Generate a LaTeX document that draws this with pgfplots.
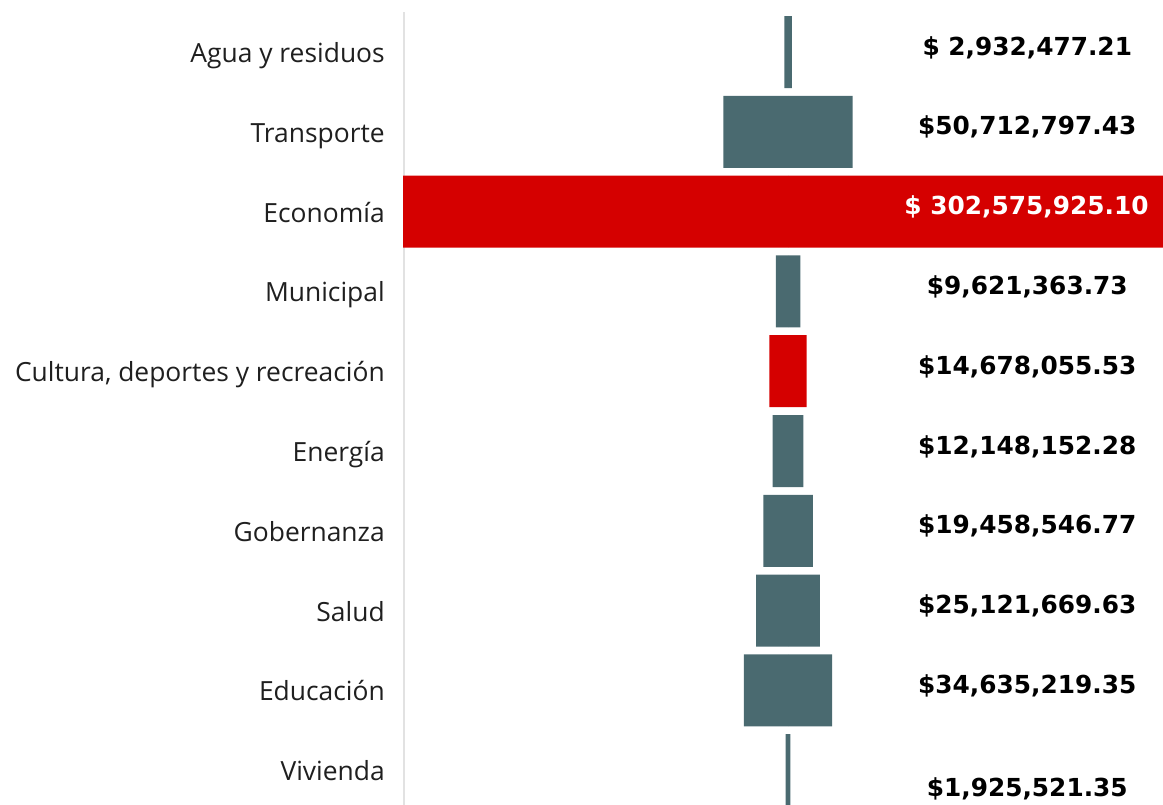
\documentclass[border=0pt]{standalone}
\usepackage{fontspec}
\setmainfont{Open Sans}
\newfontfamily\valfont{DejaVu Sans}
\usepackage{pgfplots}
\usepackage{pgfplotstable}
\pgfplotsset{compat=1.18}
\usetikzlibrary{calc}
\definecolor{slate}{HTML}{4A6A70}
\definecolor{redbar}{HTML}{D50000}
\definecolor{axgray}{HTML}{E2E2E2}

\pgfplotstableread{
row v
0 2.93247721
1 50.71279743
3 9.62136373
5 12.14815228
6 19.45854677
7 25.12166963
8 34.63521935
9 1.92552135
}\grayrows
\pgfplotstableread{
row v
2 302.57592510
4 14.67805553
}\redrows
\pgfplotstableread[col sep=semicolon]{
x;y;label
94.0;0;\$ 2,932,477.21
94.0;1;\$50,712,797.43
94.0;3;\$9,621,363.73
94.0;4;\$14,678,055.53
94.0;5;\$12,148,152.28
94.0;6;\$19,458,546.77
94.0;7;\$25,121,669.63
94.0;8;\$34,635,219.35
94.0;9.29;\$1,925,521.35
}\blacklabels
\pgfplotstableread[col sep=semicolon]{
x;y;label
93.7;2;\$ 302,575,925.10
}\whitelabels

\begin{document}
\begin{tikzpicture}
\begin{axis}[
  width=570pt, height=603.75pt, scale only axis,
  xmin=-151.3, xmax=147.35,
  ymin=-0.652, ymax=9.436,
  y dir=reverse,
  axis line style={draw=none},
  major tick length=0pt,
  xtick=\empty,
  ytick={0,...,9},
  yticklabels={Agua y residuos,Transporte,Economía,Municipal,{Cultura, deportes y recreación},Energía,Gobernanza,Salud,Educación,Vivienda},
  yticklabel style={font=\fontsize{19.8}{22}\selectfont, anchor=base east, inner sep=0pt, xshift=-13.5pt, yshift=-7.9pt, text=black!88},
]
\draw[axgray, line width=1.5pt] (axis cs:-150.9,-0.5) -- (axis cs:-150.9,9.6);
\addplot[xbar, bar width=54pt, bar shift=0pt, fill=slate, draw=none] table[x expr=\thisrow{v}/2, y=row] {\grayrows};
\addplot[xbar, bar width=54pt, bar shift=0pt, fill=slate, draw=none] table[x expr=-\thisrow{v}/2, y=row] {\grayrows};
\addplot[xbar, bar width=54pt, bar shift=0pt, fill=redbar, draw=none] table[x expr=\thisrow{v}/2, y=row] {\redrows};
\addplot[xbar, bar width=54pt, bar shift=0pt, fill=redbar, draw=none] table[x expr=-\thisrow{v}/2, y=row] {\redrows};
\addplot[only marks, mark=none, point meta=explicit symbolic, nodes near coords,
  nodes near coords style={font=\valfont\bfseries\fontsize{18.6}{19}\selectfont, anchor=base, yshift=-2.3pt, text=black, inner sep=0pt}]
  table[x=x, y=y, meta=label] {\blacklabels};
\addplot[only marks, mark=none, point meta=explicit symbolic, nodes near coords,
  nodes near coords style={font=\valfont\bfseries\fontsize{18.6}{19}\selectfont, anchor=base, yshift=-2.3pt, text=white, inner sep=0pt}]
  table[x=x, y=y, meta=label] {\whitelabels};
\coordinate (P1) at (rel axis cs:0,0);
\coordinate (P2) at (rel axis cs:1,1);
\end{axis}
\pgfresetboundingbox
\path[use as bounding box] ($(P1)+(-302.25pt,0)$) rectangle (P2);
\end{tikzpicture}
\end{document}
